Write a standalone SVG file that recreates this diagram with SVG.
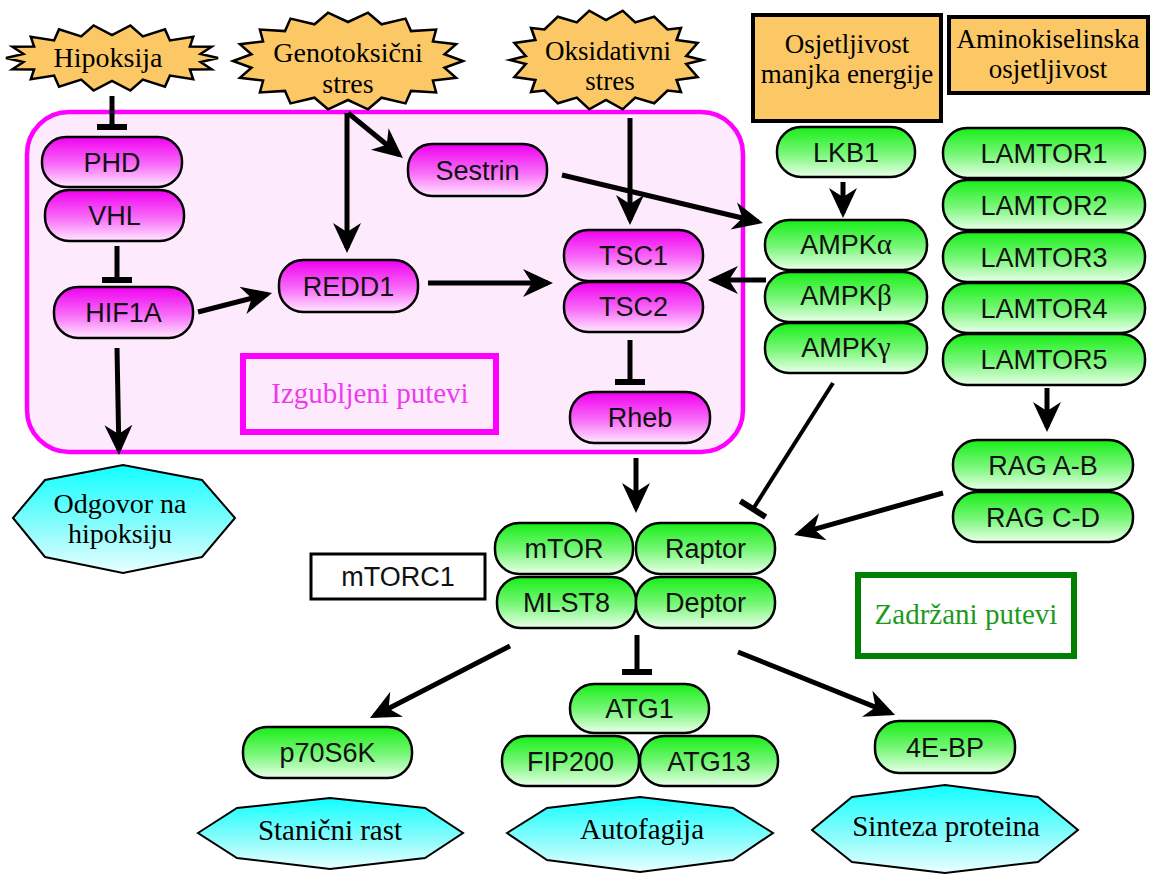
<svg xmlns="http://www.w3.org/2000/svg" width="1155" height="874" viewBox="0 0 1155 874">
<defs>
<linearGradient id="gPink" x1="0" y1="0" x2="0" y2="1">
<stop offset="0" stop-color="#f000f0"/><stop offset="0.55" stop-color="#f86cf8"/><stop offset="1" stop-color="#ffe8ff"/>
</linearGradient>
<linearGradient id="gGreen" x1="0" y1="0" x2="0" y2="1">
<stop offset="0" stop-color="#18ee18"/><stop offset="0.55" stop-color="#7cf77c"/><stop offset="1" stop-color="#eaffea"/>
</linearGradient>
<linearGradient id="gCyan" x1="0" y1="0" x2="0" y2="1">
<stop offset="0" stop-color="#10ffff"/><stop offset="0.6" stop-color="#8ffcfc"/><stop offset="1" stop-color="#eaffff"/>
</linearGradient>
<marker id="arr" markerUnits="userSpaceOnUse" markerWidth="30" markerHeight="30" viewBox="0 0 30 30" refX="25" refY="15" orient="auto">
<path d="M0,1 L30,15 L0,29 L9,15 z" fill="#000"/>
</marker>
<marker id="bar" markerUnits="userSpaceOnUse" markerWidth="8" markerHeight="32" viewBox="0 0 8 32" refX="4" refY="16" orient="auto">
<rect x="1" y="1" width="6" height="30" fill="#000"/>
</marker>
</defs>
<style>
.star{fill:#fcc865;stroke:#000;stroke-width:2.5}
.obox{fill:#fcc865;stroke:#000;stroke-width:4}
.pk{fill:url(#gPink);stroke:#000;stroke-width:2.5}
.gr{fill:url(#gGreen);stroke:#000;stroke-width:2.5}
.hex{fill:url(#gCyan);stroke:#000;stroke-width:2}
.lbl{font-family:"Liberation Sans",Arial,Helvetica,sans-serif;font-size:27px;fill:#111;text-anchor:middle}
.sf{font-family:"Liberation Serif","Times New Roman",serif;font-size:28px;fill:#000;text-anchor:middle}
.gk{font-family:"Liberation Serif","Times New Roman",serif;font-size:29px}
.ln{fill:none;stroke:#000;stroke-width:5}
.a{marker-end:url(#arr)}
.b{marker-end:url(#bar)}
</style>
<rect width="1155" height="874" fill="#fff"/>

<g id="lostArea">
<rect x="27" y="112" width="716" height="340" rx="42" fill="#fdebfd" stroke="#ff00ff" stroke-width="4.5"/>
</g>

<g id="hipoksija">
<polygon class="star" points="218,58 200.6,62 211.6,69.3 189.9,69.5 193.2,79.2 169.9,75.6 165,86.6 142.8,79.6 130.4,90.5 112,81 93.6,90.5 81.2,79.6 59,86.6 54.1,75.6 30.8,79.2 34.1,69.5 12.4,69.3 23.4,62 6,58 23.4,54 12.4,46.7 34.1,46.5 30.8,36.8 54.1,40.4 59,29.4 81.2,36.4 93.6,25.5 112,35 130.4,25.5 142.8,36.4 165,29.4 169.9,40.4 193.2,36.8 189.9,46.5 211.6,46.7 200.6,54"/>
<text class="sf" x="108" y="67">Hipoksija</text>
</g>
<g id="genotoksicni">
<polygon class="star" points="463,61 444.5,67.8 456.1,77.8 432.9,80.5 436.1,92.5 411,90.9 405.5,103.4 381.5,97.7 368,109.3 348,100 328,109.3 314.5,97.7 290.5,103.4 285,90.9 259.9,92.5 263.1,80.5 239.9,77.8 251.5,67.8 233,61 251.5,54.2 239.9,44.2 263.1,41.5 259.9,29.5 285,31.1 290.5,18.6 314.5,24.3 328,12.7 348,22 368,12.7 381.5,24.3 405.5,18.6 411,31.1 436.1,29.5 432.9,41.5 456.1,44.2 444.5,54.2"/>
<text class="sf" x="348" y="62">Genotoksični</text>
<text class="sf" x="348" y="93">stres</text>
</g>
<g id="oksidativni">
<polygon class="star" transform="translate(606,0) scale(1.07,1)" points="90,60 75,64 85.6,77 66,80 70,92 57.5,90.6 45,103.3 27.3,97.6 15.6,109.3 0,100 -15.6,109.3 -27.3,97.6 -45,103.3 -57.5,90.6 -70,92 -66,80 -85.6,77 -75,64 -90,60 -75,56 -85.6,43 -66,40 -70,28 -57.5,29.4 -45,16.7 -27.3,22.4 -15.6,10.7 0,20 15.6,10.7 27.3,22.4 45,16.7 57.5,29.4 70,28 66,40 85.6,43 75,56"/>
<text class="sf" x="608" y="60" style="font-size:27px">Oksidativni</text>
<text class="sf" x="610" y="90" style="font-size:27px">stres</text>
</g>
<g id="energija">
<rect class="obox" x="753" y="15" width="188" height="106"/>
<text class="sf" x="847" y="53" style="font-size:27px">Osjetljivost</text>
<text class="sf" x="847" y="83" style="font-size:27px">manjka energije</text>
</g>
<g id="aminokiselinska">
<rect class="obox" x="949" y="17" width="199" height="76"/>
<text class="sf" x="1048" y="48" style="font-size:27px">Aminokiselinska</text>
<text class="sf" x="1048" y="78" style="font-size:27px">osjetljivost</text>
</g>

<g id="connectors">
<line class="ln b" x1="112" y1="96" x2="112" y2="127"/>
<line class="ln b" x1="117" y1="246" x2="117" y2="280"/>
<line class="ln a" x1="198" y1="312" x2="267.2" y2="294.2"/>
<line class="ln a" x1="117" y1="348" x2="118.9" y2="450"/>
<line class="ln a" x1="347" y1="113" x2="347" y2="248"/>
<line class="ln a" x1="348" y1="113" x2="399.1" y2="154.8"/>
<line class="ln a" x1="630" y1="118" x2="630" y2="220"/>
<line class="ln a" x1="562" y1="175" x2="758.1" y2="221.8"/>
<line class="ln a" x1="428" y1="283" x2="548" y2="283"/>
<line class="ln a" x1="766" y1="280" x2="713" y2="280"/>
<line class="ln b" x1="630" y1="340" x2="630" y2="382"/>
<line class="ln a" x1="843" y1="182" x2="843" y2="213"/>
<line class="ln a" x1="1047" y1="388" x2="1047" y2="427"/>
<line class="ln a" x1="636" y1="458" x2="636" y2="508"/>
<line class="ln b" x1="833" y1="383" x2="753" y2="509" style="stroke-width:4"/>
<line class="ln a" x1="943" y1="493" x2="798.8" y2="533.6"/>
<line class="ln b" x1="637" y1="635" x2="637" y2="672"/>
<line class="ln a" x1="510" y1="646" x2="374.4" y2="715.7"/>
<line class="ln a" x1="738" y1="652" x2="890.4" y2="713.1"/>
</g>

<g id="PHD"><rect class="pk" x="42" y="137" width="140" height="50" rx="24"/><text class="lbl" x="112" y="172">PHD</text></g>
<g id="VHL"><rect class="pk" x="45" y="190" width="139" height="51" rx="24"/><text class="lbl" x="114.5" y="225">VHL</text></g>
<g id="HIF1A"><rect class="pk" x="54" y="287" width="139" height="51" rx="24"/><text class="lbl" x="123.5" y="322">HIF1A</text></g>
<g id="REDD1"><rect class="pk" x="279" y="260" width="139" height="52" rx="24"/><text class="lbl" x="348.5" y="296">REDD1</text></g>
<g id="Sestrin"><rect class="pk" x="408" y="144" width="139" height="52" rx="24"/><text class="lbl" x="477.5" y="180">Sestrin</text></g>
<g id="TSC1"><rect class="pk" x="564" y="230" width="139" height="51" rx="24"/><text class="lbl" x="633.5" y="265">TSC1</text></g>
<g id="TSC2"><rect class="pk" x="564" y="282" width="139" height="50" rx="24"/><text class="lbl" x="633.5" y="316">TSC2</text></g>
<g id="Rheb"><rect class="pk" x="570" y="392" width="140" height="51" rx="24"/><text class="lbl" x="640" y="427">Rheb</text></g>

<g id="izgubljeni">
<rect x="243" y="356" width="253" height="76" fill="none" stroke="#ff00ff" stroke-width="6"/>
<text class="sf" x="370" y="403" style="fill:#ee3aee;font-size:29px">Izgubljeni putevi</text>
</g>

<g id="LKB1"><rect class="gr" x="777" y="127" width="138" height="50" rx="24"/><text class="lbl" x="846" y="162">LKB1</text></g>
<g id="AMPKa"><rect class="gr" x="765" y="220" width="162" height="50" rx="24"/><text class="lbl" x="846" y="254">AMPK<tspan class="gk">α</tspan></text></g>
<g id="AMPKb"><rect class="gr" x="765" y="272" width="162" height="50" rx="24"/><text class="lbl" x="846" y="305">AMPK<tspan class="gk">β</tspan></text></g>
<g id="AMPKg"><rect class="gr" x="765" y="323" width="162" height="50" rx="24"/><text class="lbl" x="846" y="357">AMPK<tspan class="gk">γ</tspan></text></g>

<g id="LAMTOR1"><rect class="gr" x="943" y="128" width="202" height="50" rx="24"/><text class="lbl" x="1044" y="163">LAMTOR1</text></g>
<g id="LAMTOR2"><rect class="gr" x="943" y="180" width="202" height="50" rx="24"/><text class="lbl" x="1044" y="215">LAMTOR2</text></g>
<g id="LAMTOR3"><rect class="gr" x="943" y="232" width="202" height="50" rx="24"/><text class="lbl" x="1044" y="267">LAMTOR3</text></g>
<g id="LAMTOR4"><rect class="gr" x="943" y="283" width="202" height="50" rx="24"/><text class="lbl" x="1044" y="318">LAMTOR4</text></g>
<g id="LAMTOR5"><rect class="gr" x="943" y="334" width="202" height="51" rx="24"/><text class="lbl" x="1044" y="369">LAMTOR5</text></g>

<g id="RAGAB"><rect class="gr" x="953" y="440" width="180" height="50" rx="24"/><text class="lbl" x="1043" y="475">RAG A-B</text></g>
<g id="RAGCD"><rect class="gr" x="953" y="492" width="180" height="50" rx="24"/><text class="lbl" x="1043" y="527">RAG C-D</text></g>

<g id="mTORC1label">
<rect x="311" y="554" width="174" height="45" fill="#fff" stroke="#000" stroke-width="3"/>
<text class="lbl" x="398" y="586">mTORC1</text>
</g>
<g id="mTOR"><rect class="gr" x="495" y="523" width="138" height="51" rx="24"/><text class="lbl" x="564" y="558">mTOR</text></g>
<g id="Raptor"><rect class="gr" x="636" y="523" width="139" height="51" rx="24"/><text class="lbl" x="705.5" y="558">Raptor</text></g>
<g id="MLST8"><rect class="gr" x="497" y="577" width="139" height="51" rx="24"/><text class="lbl" x="566.5" y="612">MLST8</text></g>
<g id="Deptor"><rect class="gr" x="636" y="577" width="139" height="51" rx="24"/><text class="lbl" x="705.5" y="612">Deptor</text></g>

<g id="zadrzani">
<rect x="858" y="575" width="216" height="81" fill="none" stroke="#008000" stroke-width="6"/>
<text class="sf" x="966" y="624" style="fill:#1c9a1c;font-size:29px">Zadržani putevi</text>
</g>

<g id="p70S6K"><rect class="gr" x="243" y="727" width="169" height="51" rx="24"/><text class="lbl" x="327.5" y="762">p70S6K</text></g>
<g id="ATG1"><rect class="gr" x="570" y="684" width="139" height="49" rx="24"/><text class="lbl" x="639.5" y="718">ATG1</text></g>
<g id="FIP200"><rect class="gr" x="502" y="736" width="137" height="50" rx="24"/><text class="lbl" x="570.5" y="771">FIP200</text></g>
<g id="ATG13"><rect class="gr" x="640" y="736" width="138" height="50" rx="24"/><text class="lbl" x="709" y="771">ATG13</text></g>
<g id="4EBP"><rect class="gr" x="875" y="721" width="140" height="52" rx="24"/><text class="lbl" x="945" y="757">4E-BP</text></g>

<g id="odgovor">
<polygon class="hex" points="13,518 45,480 123,465 202,480 235,518 202,557 123,573 45,557"/>
<text class="sf" x="120" y="513">Odgovor na</text>
<text class="sf" x="120" y="543">hipoksiju</text>
</g>
<g id="stanicni">
<polygon class="hex" points="198,833 237,808 330,798 425,808 463,833 425,858 330,869 237,858"/>
<text class="sf" x="330" y="840" style="font-size:29px">Stanični rast</text>
</g>
<g id="autofagija">
<polygon class="hex" points="507,833 547,808 640,797 733,808 773,833 733,860 640,872 547,860"/>
<text class="sf" x="642" y="839" style="font-size:29px">Autofagija</text>
</g>
<g id="sinteza">
<polygon class="hex" points="812,830 852,797 945,785 1038,797 1078,830 1038,862 945,873 852,862"/>
<text class="sf" x="946" y="836" style="font-size:29px">Sinteza proteina</text>
</g>
</svg>
